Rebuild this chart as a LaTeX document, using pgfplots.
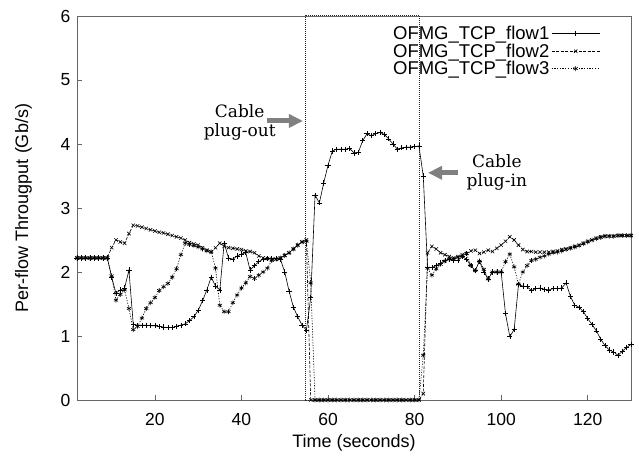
\documentclass[border=0pt]{standalone}
\usepackage{fontspec}
\setmainfont{Liberation Sans}
\newfontfamily\annfont{DejaVu Serif}
\usepackage{pgfplots}
\pgfplotsset{compat=1.18}
\usetikzlibrary{arrows.meta}

\pgfplotstableread{
t v
2 2.22
3 2.22
4 2.22
5 2.22
6 2.22
7 2.22
8 2.22
9 2.22
10 1.92
11 1.67
12 1.72
13 1.75
14 2.03
15 1.18
16 1.17
17 1.17
18 1.17
19 1.16
20 1.16
21 1.15
22 1.14
23 1.13
24 1.13
25 1.15
26 1.17
27 1.19
28 1.24
29 1.30
30 1.40
31 1.55
32 1.72
33 1.92
34 1.78
35 1.72
36 2.45
37 2.22
38 2.20
39 2.25
40 2.28
41 2.30
42 2.03
43 2.10
44 2.16
45 2.20
46 2.21
47 2.21
48 2.21
49 2.20
50 2.00
51 1.70
52 1.45
53 1.30
54 1.17
55 1.09
56 1.60
57 3.20
58 3.08
59 3.39
60 3.67
61 3.89
62 3.92
63 3.92
64 3.92
65 3.93
66 3.86
67 3.87
68 4.05
69 4.16
70 4.13
71 4.16
72 4.18
73 4.15
74 4.08
75 4.00
76 3.92
77 3.94
78 3.95
79 3.95
80 3.96
81 3.97
82 3.50
83 2.07
84 2.07
85 2.10
86 2.14
87 2.18
88 2.20
89 2.18
90 2.18
91 2.24
92 2.20
93 2.10
94 2.02
95 2.17
96 2.00
97 1.89
98 2.00
99 2.00
100 2.00
101 1.35
102 0.99
103 1.10
104 1.80
105 1.78
106 1.77
107 1.71
108 1.74
109 1.75
110 1.73
111 1.72
112 1.74
113 1.74
114 1.75
115 1.83
116 1.62
117 1.48
118 1.45
119 1.38
120 1.27
121 1.18
122 1.08
123 0.95
124 0.85
125 0.78
126 0.75
127 0.70
128 0.76
129 0.82
130 0.87
}\flowone

\pgfplotstableread{
t v
2 2.22
3 2.22
4 2.22
5 2.22
6 2.22
7 2.22
8 2.22
9 2.22
10 2.38
11 2.50
12 2.47
13 2.45
14 2.60
15 2.73
16 2.72
17 2.70
18 2.68
19 2.66
20 2.64
21 2.62
22 2.61
23 2.59
24 2.57
25 2.55
26 2.53
27 2.50
28 2.46
29 2.44
30 2.42
31 2.38
32 2.34
33 2.31
34 2.38
35 2.45
36 2.40
37 2.38
38 2.37
39 2.36
40 2.35
41 2.33
42 2.32
43 2.30
44 2.25
45 2.22
46 2.21
47 2.20
48 2.20
49 2.22
50 2.26
51 2.30
52 2.36
53 2.42
54 2.47
55 2.50
56 0.00
57 0.00
58 0.00
59 0.00
60 0.00
61 0.00
62 0.00
63 0.00
64 0.00
65 0.00
66 0.00
67 0.00
68 0.00
69 0.00
70 0.00
71 0.00
72 0.00
73 0.00
74 0.00
75 0.00
76 0.00
77 0.00
78 0.00
79 0.00
80 0.00
81 0.00
82 0.10
83 2.30
84 2.40
85 2.36
86 2.30
87 2.27
88 2.24
89 2.22
90 2.24
91 2.27
92 2.29
93 2.33
94 2.34
95 2.29
96 2.31
97 2.34
98 2.32
99 2.37
100 2.42
101 2.48
102 2.55
103 2.50
104 2.42
105 2.35
106 2.32
107 2.32
108 2.31
109 2.31
110 2.31
111 2.31
112 2.32
113 2.33
114 2.35
115 2.36
116 2.38
117 2.40
118 2.42
119 2.45
120 2.48
121 2.50
122 2.53
123 2.55
124 2.56
125 2.56
126 2.56
127 2.57
128 2.57
129 2.57
130 2.57
}\flowtwo

\pgfplotstableread{
t v
2 2.22
3 2.22
4 2.22
5 2.22
6 2.22
7 2.22
8 2.22
9 2.22
10 1.94
11 1.56
12 1.65
13 1.72
14 1.43
15 1.10
16 1.15
17 1.28
18 1.43
19 1.52
20 1.60
21 1.71
22 1.77
23 1.82
24 1.92
25 2.05
26 2.27
27 2.45
28 2.43
29 2.41
30 2.39
31 2.36
32 2.33
33 2.32
34 2.06
35 1.48
36 1.38
37 1.38
38 1.52
39 1.64
40 1.75
41 1.83
42 1.93
43 1.90
44 1.95
45 2.00
46 2.06
47 2.18
48 2.20
49 2.22
50 2.26
51 2.30
52 2.36
53 2.42
54 2.47
55 2.48
56 1.83
57 0.00
58 0.00
59 0.00
60 0.00
61 0.00
62 0.00
63 0.00
64 0.00
65 0.00
66 0.00
67 0.00
68 0.00
69 0.00
70 0.00
71 0.00
72 0.00
73 0.00
74 0.00
75 0.00
76 0.00
77 0.00
78 0.00
79 0.00
80 0.00
81 0.00
82 0.70
83 2.06
84 1.95
85 2.05
86 2.12
87 2.17
88 2.20
89 2.20
90 2.23
91 2.25
92 2.29
93 2.10
94 2.02
95 2.17
96 2.04
97 1.89
98 2.00
99 2.00
100 2.00
101 2.16
102 2.28
103 2.08
104 1.81
105 2.00
106 2.10
107 2.18
108 2.20
109 2.23
110 2.25
111 2.28
112 2.30
113 2.31
114 2.33
115 2.35
116 2.37
117 2.39
118 2.41
119 2.44
120 2.47
121 2.50
122 2.52
123 2.54
124 2.56
125 2.56
126 2.56
127 2.57
128 2.57
129 2.57
130 2.57
}\flowthree

\begin{document}
\begin{tikzpicture}
\begin{axis}[name=ax, at={(0,0)}, anchor=south west,
  scale only axis, width=554pt, height=384pt,
  xmin=2, xmax=130, ymin=0, ymax=6,
  xtick={20,40,...,120}, ytick={0,1,...,6},
  tick pos=left, tick align=inside, major tick length=5pt,
  axis line style={draw=black!60, line width=0.6pt},
  tick style={draw=black!60, line width=0.6pt},
  /pgf/number format/assume math mode=true,
  ticklabel style={font=\fontsize{17.5}{20}\selectfont},
  xticklabel style={yshift=-10pt},
  yticklabel style={xshift=-3pt},
  xlabel={Time (seconds)}, ylabel={Per-flow Througput (Gb/s)},
  label style={font=\fontsize{18}{21}\selectfont},
  xlabel shift=2pt,
  ylabel shift=22pt,
  clip=false,
  legend style={draw=none, fill=none, at={(0.948,0.984)}, anchor=north east,
    font=\fontsize{18.5}{18.5}\selectfont,
    row sep=-1.5pt, inner sep=2pt},
  legend cell align=right,
  legend plot pos=right,
  legend image code/.code={\draw[#1,mark=none] (0pt,0pt) -- (48pt,0pt); \draw[#1] plot coordinates {(24pt,0pt)};},
]
\addplot[black, line width=0.6pt, mark=+, mark size=2.6pt] table[x=t,y=v] {\flowone};
\addlegendentry{OFMG\_TCP\_flow1}
\addplot[black, line width=0.6pt, dash pattern=on 3pt off 1.5pt, mark=x, mark size=2.4pt, mark options={solid}] table[x=t,y=v] {\flowtwo};
\addlegendentry{OFMG\_TCP\_flow2}
\addplot[black, line width=0.6pt, dash pattern=on 1.2pt off 1.5pt, mark=asterisk, mark size=2.4pt, mark options={solid}] table[x=t,y=v] {\flowthree};
\addlegendentry{OFMG\_TCP\_flow3}

\draw[black!85, line width=0.4pt, dash pattern=on 1pt off 1pt] (axis cs:54.65,0) rectangle (axis cs:81.0,6.016);

\node[font=\annfont\fontsize{17}{19}\selectfont, align=center] at (axis cs:39.6,4.34) {Cable\\plug-out};
\draw[black!50, line width=5pt, -{Triangle[length=14pt,width=13pt]}] (axis cs:45.9,4.36) -- (axis cs:54.2,4.36);
\node[font=\annfont\fontsize{17}{19}\selectfont, align=center] at (axis cs:99,3.55) {Cable\\plug-in};
\draw[black!50, line width=5pt, -{Triangle[length=14pt,width=13pt]}] (axis cs:90,3.55) -- (axis cs:83.1,3.55);
\end{axis}
\pgfresetboundingbox
\path[use as bounding box] ([xshift=-77pt,yshift=-60pt]ax.south west) rectangle ([xshift=8pt,yshift=16pt]ax.north east);
\end{tikzpicture}
\end{document}
